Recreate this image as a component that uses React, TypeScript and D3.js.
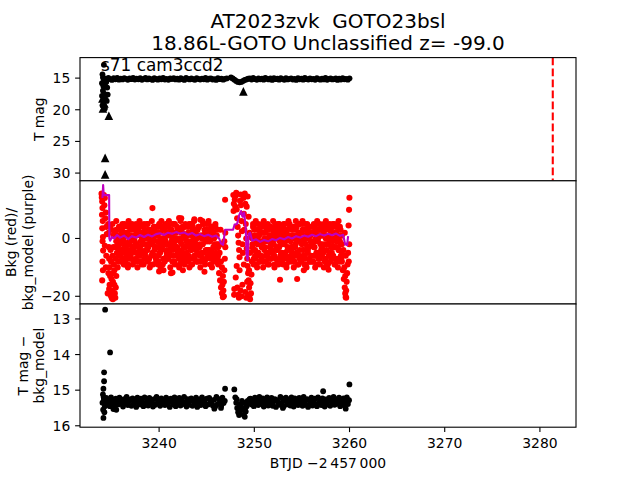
import React from "react";
import * as d3 from "d3";

// ---------- layout constants ----------
const W = 640;
const H = 480;
const L = 80;
const R = 576;
const PANEL_TOPS = [57.6, 180.8, 304];
const PH = 123.2;
const FONT = "DejaVu Sans, Liberation Sans, sans-serif";

// ---------- axes ----------
const xDomain = [3231.69, 3283.79];
const topDomain = [11.76, 31.22];
const midDomain = [-22.67, 19.95];
const botDomain = [12.58, 16.04];
const xTicks = [3240, 3250, 3260, 3270, 3280];
const topTicks = [15, 20, 25, 30];
const midTicks = [-20, 0];
const botTicks = [13, 14, 15, 16];

const titleLines = ["AT2023zvk  GOTO23bsl", "18.86L-GOTO Unclassified z= -99.0"];
const fieldLabel = "s71 cam3ccd2";
const fieldLabelPos = [3233.9, 13.85];
const xLabel = "BTJD \u22122\u2009457\u2009000";
const discoveryT = 3281.35;

// ---------- top panel: T mag ----------
const topBand1Span = [3234.3, 3247.1];
const topBand1 = [
  15.10,15.22,14.98,15.15,15.28,15.02,15.18,14.96,15.25,15.08,
  15.20,14.99,15.12,15.27,15.04,15.16,14.97,15.23,15.09,15.19,
  15.01,15.26,15.13,14.98,15.21,15.06,15.17,15.29,15.00,15.14,
  15.24,15.03,15.18,14.96,15.22,15.11,15.27,15.05,15.15,14.99,
  15.20,15.08,15.25,15.02,15.16,15.28,14.97,15.12,15.21,15.04,
  15.18,15.26,15.00,15.14,15.23,15.07,15.19,14.98,15.25,15.10,
  15.03,15.22,15.15,15.29,15.01,15.17,15.08,15.24,15.12,15.05,
];
const topBand2Span = [3247.55, 3260.0];
const topBand2 = [
  14.90,15.05,15.25,15.45,15.60,15.65,15.60,15.45,15.30,15.20,15.10,
  15.05,15.22,14.98,15.16,15.27,15.03,15.19,15.10,15.25,14.97,
  15.13,15.21,15.06,15.28,15.00,15.17,15.09,15.24,15.02,15.15,
  15.26,14.99,15.20,15.11,15.04,15.23,15.14,15.29,15.01,15.18,
  15.07,15.25,14.96,15.16,15.22,15.05,15.19,15.12,15.27,15.00,
  15.15,15.24,15.08,15.20,14.98,15.26,15.13,15.03,15.21,15.17,
  15.06,15.28,15.10,15.23,14.99,15.18,15.14,15.25,15.04,
];
const topExtraT = [3234.2, 3234.05, 3234.1, 3234.2, 3234.0, 3234.15, 3234.3, 3234.1, 3234.25, 3234.0, 3234.35, 3234.15, 3234.05, 3234.3, 3234.55, 3234.6, 3234.5, 3234.45];
const topExtraM = [12.9, 14.4, 14.9, 15.4, 15.8, 16.3, 16.0, 17.0, 17.5, 17.8, 18.3, 18.8, 19.3, 19.8, 16.5, 17.6, 18.6, 15.6];
const topLimitT = [3234.05, 3234.25, 3234.1, 3234.72, 3234.33, 3234.33, 3248.85];
const topLimitM = [18.2, 19.0, 19.8, 20.95, 27.6, 30.2, 17.1];

// ---------- middle panel: background (red) and model (purple) ----------
const redBand1Span = [3235.5, 3246.2];
const redBand1 = [
  3,-5,0,-8,4,-2,-6,1,-4,5,-7,-1,2,-9,-3,
  -6,2,-9,4,-1,-4,1,-7,5,-3,0,-8,3,-2,-5,
  1,-8,4,-3,-6,5,-1,-9,2,-5,0,-7,3,-4,-2,
  -4,5,-7,0,-2,3,-9,-1,1,-1,4,-6,-3,2,-8,
  2,-3,-8,5,-5,0,-1,4,-9,-11,3,-2,1,-7,-4,
  -7,4,-2,-5,1,-12,3,0,-4,5,-8,-1,2,-6,-3,
  0,-6,3,-9,-1,7,-4,2,-7,-3,4,-8,1,-5,-2,
  4,-1,-7,2,-4,-9,5,-3,0,-6,1,-2,-8,3,-5,
  -3,1,-6,6.5,-8,0,-2,5,-5,-11.5,2,-1,-7,3,-4,
  5,-4,-1,-9,3,-6,0,2,-8,-2,4,-5,1,-7,-3,
];
const redBand1b = [
  6,-3,-10,1,-6,4,-8,-1,3,-5,0,-9,5,-2,-7,
  -4,2,-10,6,-1,-7,3,-5,0,-9,4,-3,1,-8,5,
  -2,-10,3,-6,6,-4,1,-8,-1,4,-9,2,-5,0,-7,
  5,-8,-3,2,-10,0,-6,6,-2,-9,3,-4,1,-7,4,
  -1,-9,4,-5,2,-10,6,-3,0,-7,3,-8,5,-2,-6,
  1,-7,6,-4,-10,3,-1,-8,5,-6,0,-9,2,-3,4,
  -5,3,-10,0,6,-8,-2,4,-6,1,-9,5,-3,-1,-7,
  2,-6,-10,5,-3,1,-9,4,-7,6,-1,-4,0,-8,3,
  -8,4,-2,-10,1,-5,6,-7,0,3,-9,-4,5,-1,-6,
  6,-5,0,-9,2,-10,4,-3,-7,1,5,-8,-2,3,-6,
];
const redBand1c = [
  -1,3,-6,0,-4,2,-7,4,-3,-8,1,-5,5,-2,-6,0,3,-4,-1,-7,
  2,-5,4,-3,-8,0,-2,5,-6,1,-4,3,-7,-1,2,-5,0,4,-3,-8,
  1,-6,5,-2,-4,3,-7,0,-1,-5,2,4,-6,-3,1,-8,-2,5,0,-4,
  3,-7,-1,2,-5,4,-3,0,-6,1,-8,5,-2,-4,3,-1,-7,2,0,-5,
  4,-3,-6,1,-2,5,-8,0,3,-4,-1,2,-7,4,-5,0,-3,1,-6,-2,
];
const redBand2Span = [3249.8, 3259.2];
const redBand2 = [
  -2,4,-7,1,-4,5,-9,0,-5,3,-1,-8,2,-6,-3,
  5,-3,-8,0,2,-6,4,-1,-9,3,-5,1,-7,-2,-4,
  -1,3,-6,-9,4,0,-4,2,-8,5,-3,-7,1,-5,-2,
  2,-7,5,-2,-5,1,-9,3,-4,0,-8,4,-1,-6,-3,
  -5,0,4,-8,-2,3,-6,-14,1,-9,5,-4,-1,2,-7,
  3,-4,-1,-7,5,-9,0,2,-5,-3,4,-8,1,-6,-2,
  -8,2,-3,4,-6,0,-9,5,-1,-5,3,-7,1,-4,-2,
  1,-5,5,-2,-8,3,-4,0,-9,4,-6,-1,2,-7,-3,
  4,-6,0,-3,-9,2,-1,5,-7,-4,3,-8,-2,1,-5,
];
const redBand2b = [
  -3,5,-9,0,-6,6,-1,-10,3,-5,1,-8,4,-2,-7,
  2,-10,6,-4,-1,-8,3,-6,5,0,-9,-3,4,-7,1,
  -5,6,-2,-10,1,-7,4,-4,0,-9,5,-1,-6,3,-8,
  4,-9,-1,5,-6,2,-10,0,-3,6,-7,1,-4,-8,3,
  -7,1,-10,4,-3,6,-5,-1,-9,2,-6,5,0,-8,-2,
  6,-6,0,-9,3,-2,-10,5,-4,1,-7,4,-1,-8,2,
  -1,-8,5,-3,-10,2,-5,6,0,-7,3,-9,-2,4,-6,
  3,-4,-10,1,-7,6,-2,-9,4,0,-5,5,-8,-3,2,
  -6,5,-3,-9,0,4,-8,1,-10,6,-4,-1,3,-7,-2,
];
const redBand2c = [
  0,-4,3,-7,1,-2,5,-6,-1,4,-8,2,-3,0,-5,3,-7,1,4,-4,
  -1,2,-6,5,-3,0,-8,3,-2,-5,1,4,-7,-1,2,-4,0,5,-6,-3,
  3,-8,1,-2,4,-5,0,-7,2,-1,5,-4,-6,1,3,-3,0,-8,2,-2,
  4,-6,-1,3,-5,0,-7,5,1,-3,-4,2,-8,0,4,-2,-6,1,3,-5,
  -1,5,-7,2,-3,0,-4,4,-6,1,
];
const redExtraT = [
  3233.95,3233.98,3234.02,3234.05,3234.00,3234.08,3234.03,3234.10,3234.06,3234.12,3234.05,3234.10,3234.02,
  3234.20,3234.30,3234.25,3234.40,3234.35,3234.45,3234.50,3234.30,3234.45,3234.40,
  3234.65,3234.70,3234.72,3234.75,3234.80,3234.85,3234.80,3234.90,3234.95,3235.00,3235.05,3235.10,
  3235.15,3235.20,3235.25,3235.10,3235.20,3234.95,3235.30,3235.35,3235.40,3235.45,3235.50,3235.30,
  3234.75,3234.60,3234.68,3235.00,3235.15,3234.90,3235.00,3235.10,3235.20,3234.85,3235.40,3235.35,3235.45,
  3239.3,3242.1,3243.7,3240.0,3241.4,3242.5,3252.7,3255.2,3257.8,
  3246.20,3246.30,3246.40,3246.50,3246.60,3246.70,3246.75,3246.80,3246.85,3246.90,3246.95,3246.93,
  3246.60,3246.70,3246.50,3246.80,3246.65,3246.95,3246.35,3246.45,3246.55,3246.85,
  3247.80,3247.85,3247.82,3247.90,3247.88,3247.95,3248.00,3248.05,3248.10,3248.15,3248.20,3248.25,
  3248.30,3248.35,3248.40,3248.45,3248.22,3248.30,3248.38,3248.50,3248.55,3248.60,3248.65,3248.70,
  3248.75,3248.80,3248.55,3248.65,3248.75,3248.85,3248.90,3248.95,3249.00,3249.05,3249.10,3249.15,
  3249.20,3249.25,3249.30,3249.35,3249.40,3249.45,3249.50,3249.55,3249.05,3249.15,3249.25,3249.35,
  3249.45,3249.55,3249.60,3249.65,3249.70,3249.75,3249.20,3249.30,3249.40,3249.50,3249.60,3248.90,
  3248.45,3248.15,3248.05,
  3259.20,3259.30,3259.40,3259.50,3259.55,3259.60,3259.65,3259.70,3259.75,3259.80,3259.85,3259.45,
  3259.55,3259.65,3259.35,3259.50,3259.60,3259.99,3259.95,3259.90,3259.97,3259.92,
];
const redExtraV = [
  15.5,14.2,12.8,10.5,8.2,6.0,3.5,0.5,-1.0,-4.2,-8.0,-11.0,-14.5,
  15.0,14.0,11.5,9.0,7.0,4.0,1.5,-2.5,-6.0,-10.0,
  5.0,2.0,-3.0,-7.0,-10.0,-13.0,-16.0,-18.5,-20.0,-19.5,-20.8,-18.0,
  -15.0,-12.0,-9.0,-6.0,-3.0,-8.0,-16.0,-19.0,-20.5,-17.0,-13.0,-11.0,
  -17.5,-19.0,-12.0,-14.0,-21.0,-4.0,3.0,5.0,1.0,4.5,-7,2,-3,
  10.5,7.1,6.6,-11.4,-11.8,-11.0,-14.3,-11.0,-10.8,
  -9,-12,-14.5,-17,-19,-20.3,-18,-15,-11,-7,-3,13.4,
  -10,-13,-8,-20,-16,2,-5,3,-2,-1,
  15.0,12.0,9.5,-17.5,-19.5,13.5,11.0,14.8,15.8,10.0,7.0,4.0,
  1.0,-1.5,-4.0,-6.5,-17.0,-19.5,-20.5,13.0,15.2,11.5,6.0,2.5,
  -2.0,-5.0,-18.0,-20.0,-16.0,14.0,8.5,3.0,15.5,12.0,5.0,0.0,
  -3.5,-7.0,-9.5,-12.0,-14.5,-17.0,-19.5,-21.0,-18.5,-20.5,-15.0,-20.0,
  -11.0,-5.0,-15.5,-19.0,-12.5,-8.0,11.0,14.5,7.5,2.0,0.5,-9.0,
  -11.0,-9.5,-13.5,
  -8,-11,-14,-17,-19,-20.3,-18,-15,-12,-9,-5,-10,
  -13,-20.5,-4,2,-6,14.1,9.9,4.5,-2,-8,
];
const purpleT = [
  3234.05,3234.12,3234.18,3234.27,3234.75,3234.77,3234.85,3235.06,3235.27,3235.59,3235.90,3236.32,
  3236.74,3237.16,3237.58,3238.00,3238.42,3238.84,3239.26,3239.68,3240.10,3240.52,3240.94,3241.36,
  3241.78,3242.20,3242.62,3243.04,3243.46,3243.88,3244.30,3244.72,3245.15,3245.57,3245.99,3246.30,
  3246.51,3246.72,3246.93,3247.77,3247.93,3248.19,3248.40,3248.61,3248.77,3248.93,3249.09,3249.19,
  3249.30,3249.40,3249.56,3249.77,3250.19,3250.61,3251.03,3251.45,3251.87,3252.29,3252.71,3253.13,
  3253.55,3253.97,3254.39,3254.81,3255.23,3255.65,3256.07,3256.49,3256.91,3257.33,3257.75,3258.17,
  3258.59,3259.01,3259.33,3259.54,3259.75,3259.85,
];
const purpleV = [
  14.0,18.5,15.2,15.0,15.0,0.0,-0.8,0.5,0.0,1.2,0.3,1.0,
  -0.2,0.8,0.3,1.2,0.5,1.3,0.7,1.5,1.8,1.2,2.0,1.6,
  2.2,1.7,2.1,1.3,1.9,1.0,1.5,0.8,1.3,0.6,1.0,0.0,
  -1.8,-2.2,3.0,3.0,4.8,5.0,8.0,9.5,7.5,9.0,4.0,-6.0,
  -7.5,1.5,2.0,-0.8,-0.3,-1.2,-0.5,-1.0,-0.2,-0.6,0.2,-0.3,
  0.5,0.0,0.8,0.3,1.0,0.6,1.3,0.8,1.5,1.0,1.6,1.1,
  1.7,0.9,1.3,-2.0,-2.3,0.8,
];

// ---------- bottom panel: T mag - bkg_model ----------
const botBand1Span = [3234.45, 3246.9];
const botBand1 = [
  15.22,15.41,15.30,15.45,15.20,15.36,15.27,15.43,15.24,15.33,
  15.40,15.21,15.38,15.29,15.46,15.25,15.35,15.19,15.42,15.31,
  15.26,15.44,15.23,15.37,15.28,15.47,15.21,15.34,15.40,15.24,
  15.32,15.45,15.20,15.39,15.27,15.43,15.22,15.36,15.30,15.46,
  15.25,15.41,15.19,15.35,15.28,15.44,15.23,15.38,15.31,15.42,
  15.21,15.37,15.26,15.47,15.24,15.33,15.40,15.20,15.45,15.29,
  15.36,15.22,15.43,15.27,15.39,15.19,15.34,15.46,15.25,15.41,
  15.30,15.23,15.44,15.28,15.38,15.21,15.47,15.32,15.26,15.42,
  15.20,15.37,15.29,15.45,15.24,15.40,15.22,15.35,15.31,15.43,
  15.27,15.46,15.19,15.39,15.25,15.33,15.44,15.21,15.36,15.30,
];
const botBand2Span = [3249.6, 3259.95];
const botBand2 = [
  15.24,15.40,15.29,15.45,15.21,15.35,15.27,15.42,15.19,15.33,
  15.39,15.23,15.46,15.30,15.36,15.20,15.43,15.26,15.38,15.22,
  15.44,15.31,15.25,15.47,15.28,15.34,15.41,15.19,15.37,15.24,
  15.45,15.29,15.21,15.40,15.32,15.26,15.43,15.20,15.35,15.46,
  15.23,15.38,15.28,15.42,15.22,15.36,15.30,15.44,15.19,15.33,
  15.41,15.25,15.47,15.27,15.37,15.21,15.43,15.31,15.24,15.39,
  15.45,15.20,15.34,15.28,15.42,15.23,15.36,15.46,15.26,15.40,
  15.30,15.22,15.44,15.29,15.35,15.19,15.41,15.25,15.38,15.33,
  15.21,15.45,15.27,15.37,15.23,15.43,15.31,15.20,15.39,15.28,
];
const botExtraT = [
  3234.33,3234.85,3234.22,3234.22,3234.15,3234.15,3234.10,3234.20,3234.05,3234.30,3234.12,3234.25,3234.18,3234.35,
  3246.93,3257.23,3259.99,3235.2,3235.5,3245.8,3246.5,3253.0,3259.6,
  3247.90,3248.00,3248.10,3248.20,3248.30,3248.40,3248.50,3248.60,3248.70,3248.80,3248.90,3249.00,
  3249.10,3249.20,3249.30,3249.40,3249.50,3248.15,3248.45,3248.85,3249.05,
];
const botExtraM = [
  12.74,13.94,14.50,14.75,14.96,15.78,15.12,15.25,15.35,15.45,15.55,15.62,15.20,15.30,
  14.96,15.03,14.84,15.53,15.55,15.52,15.50,15.50,15.52,
  14.98,15.20,15.35,15.50,15.62,15.70,15.60,15.45,15.30,15.55,15.70,15.75,
  15.60,15.45,15.30,15.35,15.25,15.25,15.40,15.35,15.50,
];

const spread = (span: number[], vals: number[]) => {
  const idx = d3.scaleLinear().domain([0, vals.length - 1]).range(span);
  return vals.map((v, i) => [idx(i), v] as [number, number]);
};
const pairs = (ts: number[], vs: number[]) => ts.map((t, i) => [t, vs[i]] as [number, number]);

const DOT_R = 2.9;
const RED_R = 3.05;
const TRI = 8.6;

export default function App() {
  const x = d3.scaleLinear().domain(xDomain).range([L, R]);
  const yTop = d3.scaleLinear().domain(topDomain).range([PANEL_TOPS[0], PANEL_TOPS[0] + PH]);
  const yMid = d3.scaleLinear().domain([midDomain[1], midDomain[0]]).range([PANEL_TOPS[1], PANEL_TOPS[1] + PH]);
  const yBot = d3.scaleLinear().domain(botDomain).range([PANEL_TOPS[2], PANEL_TOPS[2] + PH]);

  const topPts = [...spread(topBand1Span, topBand1), ...spread(topBand2Span, topBand2), ...pairs(topExtraT, topExtraM)];
  const topTri = pairs(topLimitT, topLimitM);
  const redPts = [
    ...spread(redBand1Span, redBand1),
    ...spread(redBand1Span, redBand1b),
    ...spread(redBand1Span, redBand1c),
    ...spread(redBand2Span, redBand2),
    ...spread(redBand2Span, redBand2b),
    ...spread(redBand2Span, redBand2c),
    ...pairs(redExtraT, redExtraV),
  ];
  const purple = pairs(purpleT, purpleV);
  const botPts = [...spread(botBand1Span, botBand1), ...spread(botBand2Span, botBand2), ...pairs(botExtraT, botExtraM)];

  const purpleLine = d3.line<[number, number]>().x((d) => x(d[0])).y((d) => yMid(d[1]))(purple) || "";

  const yTickBlock = (ticks: number[], y: d3.ScaleLinear<number, number>, fmt: (v: number) => string) =>
    ticks.map((t) => (
      <g key={t}>
        <line x1={L - 4.9} x2={L} y1={y(t)} y2={y(t)} stroke="#000" strokeWidth={1.1} />
        <text x={L - 9.7} y={y(t)} dy="0.36em" textAnchor="end" fontSize={13.9} fontFamily={FONT}>
          {fmt(t)}
        </text>
      </g>
    ));
  const fmtNum = (v: number) => (v < 0 ? "\u2212" + Math.abs(v) : String(v));

  const frame = (i: number) => (
    <rect x={L} y={PANEL_TOPS[i]} width={R - L} height={PH} fill="none" stroke="#000" strokeWidth={1.1} />
  );

  return (
    <svg width={W} height={H} style={{ position: "absolute", left: 0, top: 0, background: "#fff" }}>
      <defs>
        {PANEL_TOPS.map((t, i) => (
          <clipPath id={`clip${i}`} key={i}>
            <rect x={L} y={t} width={R - L} height={PH} />
          </clipPath>
        ))}
      </defs>
      <rect x={0} y={0} width={W} height={H} fill="#fff" />

      {/* title */}
      <text x={(L + R) / 2} y={27.5} textAnchor="middle" fontSize={20} fontFamily={FONT} style={{ whiteSpace: "pre" }}>
        {titleLines[0]}
      </text>
      <text x={(L + R) / 2} y={49.5} textAnchor="middle" fontSize={20} fontFamily={FONT}>
        {titleLines[1]}
      </text>

      {/* top panel */}
      <g clipPath="url(#clip0)">
        {topPts.map((d, i) => (
          <circle key={i} cx={x(d[0])} cy={yTop(d[1])} r={DOT_R} fill="#000" />
        ))}
        {topTri.map((d, i) => {
          const cx = x(d[0]);
          const cy = yTop(d[1]);
          return (
            <path
              key={i}
              d={`M${cx},${cy - TRI / 2}L${cx + TRI / 2},${cy + TRI / 2}L${cx - TRI / 2},${cy + TRI / 2}Z`}
              fill="#000"
            />
          );
        })}
        <line
          x1={x(discoveryT)}
          x2={x(discoveryT)}
          y1={PANEL_TOPS[0]}
          y2={PANEL_TOPS[0] + PH}
          stroke="#ff0000"
          strokeWidth={2.1}
          strokeDasharray="7.7 3.3"
        />
      </g>
      <text x={x(fieldLabelPos[0])} y={yTop(fieldLabelPos[1])} fontSize={16.9} fontFamily={FONT}>
        {fieldLabel}
      </text>
      {frame(0)}
      {yTickBlock(topTicks, yTop, fmtNum)}
      <text transform={`translate(44,${PANEL_TOPS[0] + PH / 2}) rotate(-90)`} textAnchor="middle" fontSize={13.9} fontFamily={FONT}>
        T mag
      </text>

      {/* middle panel */}
      <rect x={L} y={PANEL_TOPS[1]} width={R - L} height={PH} fill="#fff" />
      <g clipPath="url(#clip1)">
        {redPts.map((d, i) => (
          <circle key={i} cx={x(d[0])} cy={yMid(d[1])} r={RED_R} fill="#ff0000" />
        ))}
        <path d={purpleLine} fill="none" stroke="#bf00bf" strokeWidth={2.1} strokeLinejoin="round" />
      </g>
      {frame(1)}
      {yTickBlock(midTicks, yMid, fmtNum)}
      <text transform={`translate(16,${PANEL_TOPS[1] + PH / 2}) rotate(-90)`} textAnchor="middle" fontSize={13.9} fontFamily={FONT}>
        Bkg (red)/
      </text>
      <text transform={`translate(32.5,${PANEL_TOPS[1] + PH / 2}) rotate(-90)`} textAnchor="middle" fontSize={13.9} fontFamily={FONT}>
        bkg_model (purple)
      </text>

      {/* bottom panel */}
      <rect x={L} y={PANEL_TOPS[2]} width={R - L} height={PH} fill="#fff" />
      <g clipPath="url(#clip2)">
        {botPts.map((d, i) => (
          <circle key={i} cx={x(d[0])} cy={yBot(d[1])} r={DOT_R} fill="#000" />
        ))}
      </g>
      {frame(2)}
      {yTickBlock(botTicks, yBot, fmtNum)}
      <text transform={`translate(28,${PANEL_TOPS[2] + PH / 2}) rotate(-90)`} textAnchor="middle" fontSize={13.9} fontFamily={FONT}>
        T mag {"\u2212"}
      </text>
      <text transform={`translate(44,${PANEL_TOPS[2] + PH / 2}) rotate(-90)`} textAnchor="middle" fontSize={13.9} fontFamily={FONT}>
        bkg_model
      </text>

      {/* x axis */}
      {xTicks.map((t) => (
        <g key={t}>
          <line x1={x(t)} x2={x(t)} y1={PANEL_TOPS[2] + PH} y2={PANEL_TOPS[2] + PH + 4.9} stroke="#000" strokeWidth={1.1} />
          <text x={x(t)} y={448} textAnchor="middle" fontSize={13.9} fontFamily={FONT}>
            {t}
          </text>
        </g>
      ))}
      <text x={(L + R) / 2} y={468} textAnchor="middle" fontSize={13.9} fontFamily={FONT}>
        {xLabel}
      </text>
    </svg>
  );
}
